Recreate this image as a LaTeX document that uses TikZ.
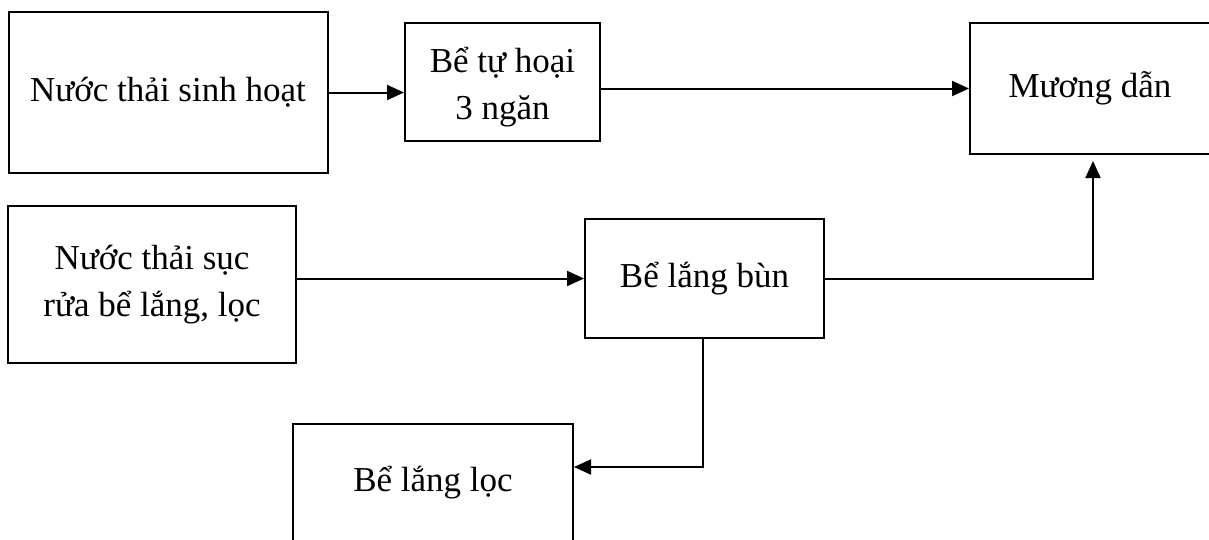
\documentclass[tikz,border=0pt]{standalone}
\usepackage{fontspec}
\setmainfont{Liberation Serif}
\usetikzlibrary{arrows.meta}
\tikzset{
  box/.style={draw, line width=2pt, inner sep=0pt, align=center,
    font=\fontsize{35}{47}\selectfont},
  txt/.style={inner sep=0pt, align=center, font=\fontsize{35}{47}\selectfont},
  arr/.style={line width=2pt, -{Triangle[length=17pt,width=15pt]}}
}
\begin{document}
\begin{tikzpicture}[x=1pt,y=-1pt]
\useasboundingbox (0,0) rectangle (1209,539);
\clip (0,0) rectangle (1209,539);
\fill[white] (0,0) rectangle (1209,539);
\node[box, minimum width=319pt, minimum height=161pt] (b1) at (168,92.5) {Nước thải sinh hoạt};
\node[box, minimum width=195pt, minimum height=118pt] (b2) at (502.5,82) {};
\node[txt] (b2t) at (502.5,87) {Bể tự hoại\\3 ngăn};
\node[box, minimum width=240pt, minimum height=131pt] (b3) at (1090,88.5) {Mương dẫn};
\node[box, minimum width=288pt, minimum height=157pt] (b4) at (152,284.5) {Nước thải sục\\rửa bể lắng, lọc};
\node[box, minimum width=239pt, minimum height=119pt] (b5) at (704.5,278.5) {Bể lắng bùn};
\node[box, minimum width=280pt, minimum height=118pt] (b6) at (433,483) {Bể lắng lọc};
\coordinate (c1) at (1093,279);
\coordinate (c2) at (703,467);
\draw[arr] (b1.east) -- (b2.west |- b1.east);
\draw[arr] (b2.east |- b3.west) -- (b3.west);
\draw[arr] (b4.east |- b5.west) -- (b5.west);
\draw[arr, shorten >=6pt] (b5.east) -| (b3.south -| c1);
\draw[arr] (b5.south -| c2) -- (c2) -- (b6.east |- c2);
\end{tikzpicture}
\end{document}
